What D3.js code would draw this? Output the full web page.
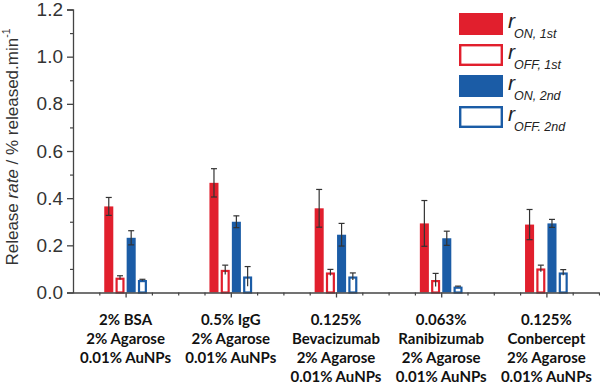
<!DOCTYPE html>
<html>
<head>
<meta charset="utf-8">
<script src="https://cdn.jsdelivr.net/npm/d3@7"></script>
<style>
  body { margin: 0; background: #fff; }
  svg { display: block; }
</style>
</head>
<body>
<div id="chart"></div>
<script>
// categories (multi-line labels)
const categories = [
  ['2% BSA', '2% Agarose', '0.01% AuNPs'],
  ['0.5% IgG', '2% Agarose', '0.01% AuNPs'],
  ['0.125%', 'Bevacizumab', '2% Agarose', '0.01% AuNPs'],
  ['0.063%', 'Ranibizumab', '2% Agarose', '0.01% AuNPs'],
  ['0.125%', 'Conbercept', '2% Agarose', '0.01% AuNPs']
];
const seriesNames = ['ON, 1st', 'OFF, 1st', 'ON, 2nd', 'OFF. 2nd'];
const onFirst = [0.365, 0.465, 0.357, 0.293, 0.288];
const onFirstErr = [0.038, 0.06, 0.08, 0.097, 0.064];
const offFirst = [0.063, 0.096, 0.085, 0.053, 0.102];
const offFirstErr = [0.008, 0.02, 0.013, 0.028, 0.014];
const onSecond = [0.232, 0.3, 0.245, 0.23, 0.293];
const onSecondErr = [0.03, 0.025, 0.048, 0.03, 0.017];
const offSecond = [0.053, 0.068, 0.068, 0.025, 0.085];
const offSecondErr = [0.003, 0.042, 0.015, 0.002, 0.012];
const yTicks = [0, 0.2, 0.4, 0.6, 0.8, 1.0, 1.2];

const red = '#e11f2d', blue = '#1b5ca6';
const series = [
  { vals: onFirst, errs: onFirstErr, color: red, filled: true },
  { vals: offFirst, errs: offFirstErr, color: red, filled: false },
  { vals: onSecond, errs: onSecondErr, color: blue, filled: true },
  { vals: offSecond, errs: offSecondErr, color: blue, filled: false }
];
const offsets = [-0.16, -0.053, 0.053, 0.16];
const barW = 0.086;

const W = 600, H = 384;
const svg = d3.select('#chart').append('svg').attr('width', W).attr('height', H);

const x = d3.scaleLinear().domain([0.5, 5.5]).range([73, 599]);
const y = d3.scaleLinear().domain([0, 1.2]).range([292.5, 9.5]);

// bars + error bars
series.forEach((s, si) => {
  const g = svg.append('g');
  s.vals.forEach((v, i) => {
    const c = i + 1 + offsets[si];
    const x0 = x(c - barW / 2), x1 = x(c + barW / 2);
    if (s.filled) {
      g.append('rect').attr('x', x0).attr('y', y(v))
        .attr('width', x1 - x0).attr('height', y(0) - y(v)).attr('fill', s.color);
    } else {
      g.append('rect').attr('x', x0 + 1.1).attr('y', y(v) + 1.1)
        .attr('width', x1 - x0 - 2.2).attr('height', y(0) - y(v) - 1.1)
        .attr('fill', '#fff').attr('stroke', s.color).attr('stroke-width', 2.2);
    }
    const cx = x(c), e = s.errs[i];
    const eg = svg.append('g').attr('stroke', '#333').attr('stroke-width', 1.2);
    eg.append('line').attr('x1', cx).attr('x2', cx).attr('y1', y(v + e)).attr('y2', y(Math.max(0, v - e)));
    eg.append('line').attr('x1', cx - 3).attr('x2', cx + 3).attr('y1', y(v + e)).attr('y2', y(v + e));
    if (s.filled) eg.append('line').attr('x1', cx - 3).attr('x2', cx + 3).attr('y1', y(v - e)).attr('y2', y(v - e));
  });
});

// y axis
const yAxis = svg.append('g').attr('transform', `translate(${x(0.5)},0)`)
  .call(d3.axisLeft(y).tickValues(yTicks).tickFormat(d3.format('.1f')).tickSize(6).tickPadding(4));
yAxis.select('.domain').attr('stroke', '#444').attr('stroke-width', 1.3);
yAxis.selectAll('.tick line').attr('stroke', '#444').attr('stroke-width', 1.3);
yAxis.selectAll('text').attr('font-family', '"Liberation Sans", Arial, sans-serif')
  .attr('font-size', 19).attr('fill', '#333');
svg.append('g').attr('transform', `translate(${x(0.5)},0)`)
  .call(d3.axisLeft(y).tickValues(d3.range(0.1, 1.2, 0.2)).tickSize(3).tickFormat(''))
  .call(g => g.select('.domain').remove())
  .selectAll('.tick line').attr('stroke', '#444').attr('stroke-width', 1.2);

// x axis
const xAxis = svg.append('g').attr('transform', `translate(0,${y(0)})`)
  .call(d3.axisBottom(x).tickValues([1, 2, 3, 4, 5]).tickSize(5).tickFormat('').tickSizeOuter(0));
xAxis.select('.domain').attr('stroke', '#444').attr('stroke-width', 1.3);
xAxis.selectAll('.tick line').attr('stroke', '#444').attr('stroke-width', 1.3);
svg.append('g').attr('transform', `translate(0,${y(0)})`)
  .call(d3.axisBottom(x).tickValues(d3.range(0.75, 5.6, 0.25).filter(d => Math.abs(d - Math.round(d)) > 0.01)).tickSize(3).tickFormat(''))
  .call(g => g.select('.domain').remove())
  .selectAll('.tick line').attr('stroke', '#444').attr('stroke-width', 1.2);

// category labels
categories.forEach((lines, i) => {
  const t = svg.append('text').attr('text-anchor', 'middle')
    .attr('font-family', 'Lato, "Open Sans", sans-serif')
    .attr('font-weight', 'bold').attr('font-size', 15).attr('fill', '#111');
  lines.forEach((l, li) => {
    t.append('tspan').attr('x', x(i + 1)).attr('y', 324.5 + li * 19.2).text(l);
  });
});

// y title
const yt = svg.append('text').attr('transform', 'translate(18,147) rotate(-90)')
  .attr('text-anchor', 'middle').attr('font-family', '"Liberation Sans", Arial, sans-serif')
  .attr('font-size', 17).attr('fill', '#333');
yt.append('tspan').text('Release ');
yt.append('tspan').attr('font-style', 'italic').text('rate');
yt.append('tspan').text(' / % released.min');
yt.append('tspan').attr('font-size', 10.5).attr('dy', -8).text('-1');

// legend
const lg = svg.append('g').attr('font-family', '"Liberation Sans", Arial, sans-serif').attr('font-style', 'italic');
series.forEach((s, si) => {
  const ly = 13 + si * 31;
  if (s.filled) {
    lg.append('rect').attr('x', 459).attr('y', ly).attr('width', 44).attr('height', 22).attr('fill', s.color);
  } else {
    lg.append('rect').attr('x', 460.2).attr('y', ly + 1.2).attr('width', 41.6).attr('height', 19.6)
      .attr('fill', '#fff').attr('stroke', s.color).attr('stroke-width', 2.4);
  }
  const t = lg.append('text').attr('x', 508).attr('y', ly + 15).attr('fill', '#222');
  t.append('tspan').attr('font-size', 21).text('r');
  t.append('tspan').attr('font-size', 12.5).attr('dy', 10).attr('dx', -1).text(seriesNames[si]);
});
</script>
</body>
</html>
